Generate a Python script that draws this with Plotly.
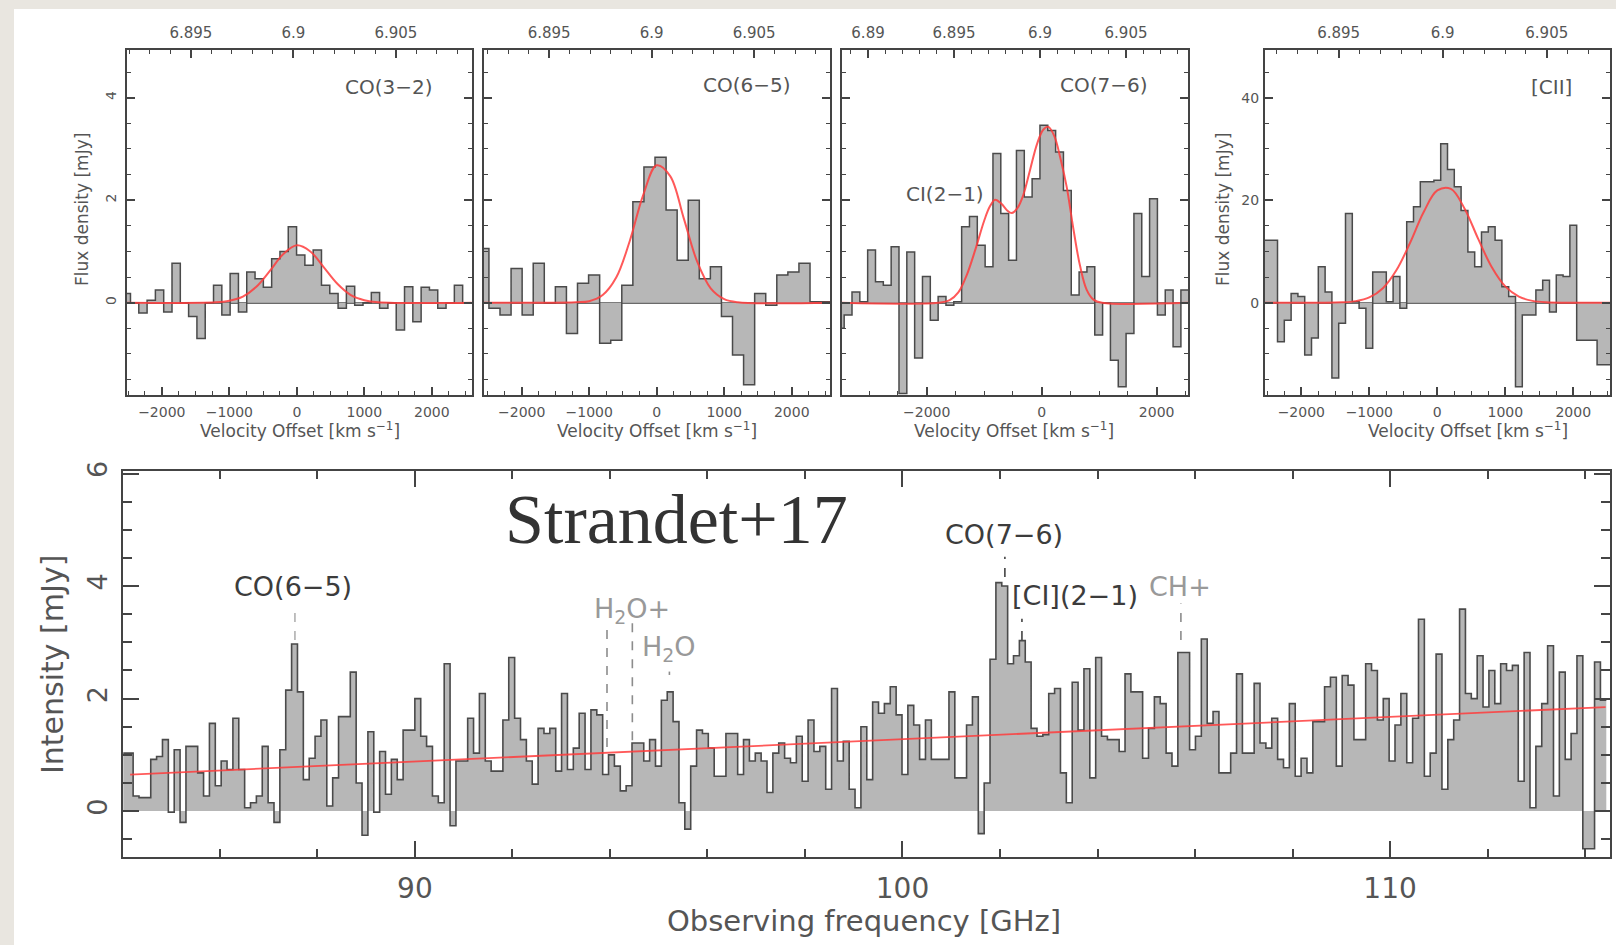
import numpy as np
import plotly.graph_objects as go

W, H = 1616, 945

# ---------------- data ----------------
# Panel 1: CO(3-2), velocity channels (km/s) and flux density (mJy)
co32_first_kms = -2525.5
co32_chan_kms = 123.0
co32_mjy = [0.18, 0.0, -0.2, 0.05, 0.25, -0.18, 0.77, 0.0, -0.27, -0.7, 0.0, 0.34,
            -0.24, 0.57, -0.18, 0.6, 0.47, 0.3, 0.86, 1.0, 1.48, 0.93, 0.73, 1.03,
            0.34, 0.18, -0.11, 0.32, -0.05, 0.0, 0.2, -0.11, 0.0, -0.53, 0.31, -0.37,
            0.3, 0.25, -0.11, 0.0, 0.34, 0.0]
co32_fit_kms = [-2600, -1200, -1000, -800, -600, -400, -200, 0, 200, 400, 600, 800, 1000, 1200, 2650]
co32_fit_mjy = [0, 0.01, 0.04, 0.12, 0.31, 0.62, 0.95, 1.12, 1.0, 0.69, 0.37, 0.15, 0.05, 0.01, 0]

# Panel 2: CO(6-5)
co65_first_kms = -2567.0
co65_chan_kms = 164.0
co65_mjy = [1.06, -0.11, -0.24, 0.67, -0.24, 0.77, -0.01, 0.31, -0.6, 0.38, 0.54, -0.79,
            -0.73, 0.34, 1.97, 2.65, 2.84, 1.81, 0.83, 2.0, 0.47, 0.7, -0.27, -1.02,
            -1.6, 0.18, -0.05, 0.54, 0.6, 0.77, 0.02, 0.02]
co65_fit_kms = [-2600, -1200, -1000, -800, -600, -400, -200, 0, 200, 400, 600, 800, 1000, 1200, 2600]
co65_fit_mjy = [0, 0.01, 0.03, 0.15, 0.49, 1.2, 2.1, 2.68, 2.47, 1.65, 0.8, 0.28, 0.07, 0.01, 0]

# Panel 3: CO(7-6) + CI(2-1)
co76_first_kms = -3503.2
co76_chan_kms = 136.2
co76_mjy = [-0.5, -0.24, 0.21, 0.02, 1.03, 0.41, 0.34, 1.09, -1.77, 0.99, -1.08, 0.51,
            -0.34, 0.12, -0.05, 0.02, 1.48, 1.68, 1.12, 0.7, 2.91, 1.74, 0.83, 2.97,
            2.06, 2.42, 3.46, 3.36, 2.94, 2.19, 0.15, 0.6, 0.7, -0.63, -0.01, -1.12,
            -1.64, -0.6, 1.74, 0.51, 2.03, -0.24, 0.25, -0.86, 0.25]
co76_fit_kms = [-3500, -1800, -1600, -1450, -1300, -1150, -1000, -900, -810, -700, -600,
                -520, -420, -320, -200, -80, 30, 116, 220, 330, 435, 550, 667, 783, 900,
                1050, 2600]
co76_fit_mjy = [0, 0, 0.05, 0.2, 0.55, 1.05, 1.6, 1.88, 2.01, 1.93, 1.8, 1.75, 1.85, 2.1,
                2.6, 3.1, 3.38, 3.43, 3.25, 2.8, 2.26, 1.45, 0.72, 0.25, 0.06, 0.0, 0]

# Panel 4: [CII]
cii_first_kms = -2500.0
cii_chan_kms = 100.0
cii_mjy = [12.2, 12.2, -7.6, -3.4, 1.8, 1.2, -10.2, -6.9, 7.0, 2.1, -14.7, -4.0, 17.4,
           0.2, -1.1, -8.9, 6.0, 6.0, 0.2, 5.1, -1.1, 15.8, 18.7, 23.6, 23.6, 23.9,
           31.0, 26.0, 22.6, 18.0, 9.9, 7.0, 13.8, 14.8, 12.2, 3.1, 1.2, -16.4, -2.4,
           -2.4, 2.5, 4.4, -1.8, 5.4, 5.1, 15.1, -7.3, -7.3, -7.3, -12.1, -12.1]
cii_fit_kms = [-2600, -1400, -1200, -1000, -800, -600, -400, -200, 0, 200, 400, 600,
               800, 1000, 1200, 1400, 1600, 2600]
cii_fit_mjy = [0, 0.08, 0.31, 1.03, 2.83, 6.37, 11.7, 17.7, 21.9, 22.2, 18.4, 12.5,
               6.97, 3.18, 1.19, 0.36, 0.09, 0]

# Bottom: full spectral scan (GHz, mJy)
spec_first_ghz = 84.041
spec_chan_ghz = 0.12037
spec_mjy = [
    1.03, 1.03, 0.27, 0.24, 0.24, 0.92, 0.97, 1.27, -0.02, 1.09, -0.2, 1.15, 1.15, 0.68,
    0.27, 1.56, 0.45, 0.89, 0.74, 1.65, 0.74, 0.06, 0.15, 0.27, 1.15, 0.15, -0.2, 1.09,
    2.15, 2.97, 2.12, 0.56, 0.94, 1.33, 1.62, 0.09, 0.59, 1.68, 1.68, 2.47, 0.5, -0.43,
    1.41, -0.02, 1.06, 0.3, 0.92, 0.56, 1.44,
    1.44, 2.0, 1.33, 1.15, 0.27, 0.15, 2.62, -0.26, 0.89, 0.89, 1.65, 1.03, 2.09, 0.89,
    0.71, 0.71, 1.62, 2.73, 1.65, 1.27, 0.89, 0.48, 1.47, 1.38, 1.47, 0.71, 2.09, 0.74,
    1.12, 1.74, 0.74, 1.8, 1.71, 0.65, 1.0, 0.8, 0.36, 0.45, 1.21, 1.21, 0.89, 1.27,
    0.8, 1.97, 2.12, 1.59, 0.15, -0.32, 0.8, 1.44,
    1.38, 1.12, 0.62, 0.62, 1.38, 1.38, 0.65, 1.27, 0.89, 1.03, 0.89, 0.33, 1.03, 1.21,
    0.94, 0.86, 1.33, 0.53, 1.62, 1.06, 1.15, 0.39, 2.18, 0.89, 1.24, 0.39, 0.06, 1.5,
    0.56, 1.94, 1.74, 1.91, 2.21, 1.71, 0.65, 1.88, 1.53, 0.92, 1.62, 0.92, 0.92, 0.92,
    2.12, 0.59, 0.59, 1.53, 2.03, -0.4, 0.5,
    2.7, 4.06, 4.0, 2.62, 2.76, 3.03, 2.65, 1.47, 1.33, 1.36, 2.09, 2.18, 0.68, 0.15,
    2.29, 1.44, 2.53, 0.59, 2.73, 1.33, 1.27, 1.27, 1.06, 2.44, 2.12, 2.12, 0.94, 1.47,
    2.03, 1.91, 1.03, 0.8, 2.82, 2.82, 1.09, 1.33, 3.06, 1.56, 1.77, 0.68, 0.68, 1.03,
    2.44, 1.03, 1.03, 2.27, 1.21, 1.12, 1.65, 0.92, 0.77, 1.91,
    0.62, 0.94, 0.68, 1.59, 1.59, 2.21, 2.38, 0.8, 2.41, 2.24, 1.27, 1.27, 2.62, 2.5,
    1.62, 2.0, 0.89, 1.53, 2.09, 0.86, 1.65, 3.41, 0.62, 1.03, 2.79, 0.39, 1.27, 1.62,
    3.59, 2.09, 2.0, 2.76, 1.85, 2.5, 1.91, 2.62, 2.5, 2.59, 0.53, 2.82, 0.06, 1.15,
    1.91, 2.94, 0.27, 2.47, 0.92, 1.38, 2.76, -0.67, -0.67, 2.65, 1.97]
cont_ghz = [84.16, 114.42]
cont_mjy = [0.65, 1.85]

# line identification markers (dashed ticks)
mark_ghz = [87.54, 93.94, 94.46, 95.22, 102.10, 102.45, 105.71]
mark_top = [3.66, 3.22, 3.34, 2.48, 4.52, 3.42, 3.69]
mark_bot = [3.04, 1.14, 1.26, 2.42, 4.16, 3.04, 3.04]
mark_col = ["#b0b0b0", "#8c8c8c", "#8c8c8c", "#8c8c8c", "#444444", "#444444", "#8c8c8c"]

lab_text = ["CO(6\u22125)", "H<sub>2</sub>O+", "H<sub>2</sub>O", "CO(7\u22126)",
            "[CI](2\u22121)", "CH+"]
lab_ghz = [87.5, 94.46, 95.21, 102.08, 103.54, 105.69]
lab_mjy = [3.99, 3.57, 2.89, 4.92, 3.84, 3.99]
lab_col = ["#3c3c3c", "#999999", "#999999", "#3c3c3c", "#3c3c3c", "#999999"]

# ---------------- helpers ----------------
def steps(first, width, vals):
    vals = np.asarray(vals, dtype=float)
    centers = first + width * np.arange(len(vals))
    edges = np.append(centers - width / 2.0, centers[-1] + width / 2.0)
    ys = np.append(vals, vals[-1])
    return edges, ys

FILL = "#b7b7b7"
EDGE = "#4a4a4a"
RED = "rgba(255,60,60,0.85)"
TXT = "#555555"
AX = "#444444"
FONT = "DejaVu Sans"

fig = go.Figure()

panels = [
    ("x", "y", co32_first_kms, co32_chan_kms, co32_mjy, co32_fit_kms, co32_fit_mjy),
    ("x2", "y2", co65_first_kms, co65_chan_kms, co65_mjy, co65_fit_kms, co65_fit_mjy),
    ("x3", "y3", co76_first_kms, co76_chan_kms, co76_mjy, co76_fit_kms, co76_fit_mjy),
    ("x4", "y4", cii_first_kms, cii_chan_kms, cii_mjy, cii_fit_kms, cii_fit_mjy),
]
for xa, ya, f0, w, vals, fx, fy in panels:
    ex, ey = steps(f0, w, vals)
    fig.add_trace(go.Scatter(x=ex, y=ey, mode="lines", line_shape="hv", fill="tozeroy",
                             fillcolor=FILL, line=dict(color=EDGE, width=1.5),
                             xaxis=xa, yaxis=ya, showlegend=False, hoverinfo="skip"))
    fig.add_trace(go.Scatter(x=fx, y=fy, mode="lines", line_shape="spline",
                             line=dict(color=RED, width=2), xaxis=xa, yaxis=ya,
                             showlegend=False, hoverinfo="skip"))

# dummy empty traces to create top (redshift) axes
for xa, ya in [("x6", "y"), ("x7", "y2"), ("x8", "y3"), ("x9", "y4")]:
    fig.add_trace(go.Scatter(x=[], y=[], xaxis=xa, yaxis=ya, showlegend=False,
                             hoverinfo="skip"))

# bottom spectrum
bx, by = steps(spec_first_ghz, spec_chan_ghz, spec_mjy)
fig.add_trace(go.Scatter(x=bx, y=by, mode="lines", line_shape="hv", fill="tozeroy",
                         fillcolor=FILL, line=dict(color=EDGE, width=1.6),
                         xaxis="x5", yaxis="y5", showlegend=False, hoverinfo="skip"))
fig.add_trace(go.Scatter(x=cont_ghz, y=cont_mjy, mode="lines",
                         line=dict(color=RED, width=1.8), xaxis="x5", yaxis="y5",
                         showlegend=False, hoverinfo="skip"))
for g, t, b, c in zip(mark_ghz, mark_top, mark_bot, mark_col):
    fig.add_trace(go.Scatter(x=[g, g], y=[b, t], mode="lines",
                             line=dict(color=c, width=1.6, dash="dash"),
                             xaxis="x5", yaxis="y5", showlegend=False, hoverinfo="skip"))

# ---------------- layout ----------------
def px_x(p):
    return p / W

def px_y(p):
    return 1 - p / H

top_dom_y = [px_y(395), px_y(50)]
doms = {
    "x": [px_x(126.7), px_x(471.7)],
    "x2": [px_x(484), px_x(830)],
    "x3": [px_x(841.7), px_x(1188.3)],
    "x4": [px_x(1265), px_x(1610)],
}
vranges = {"x": [-2520, 2590], "x2": [-2558, 2567], "x3": [-3478, 2550], "x4": [-2534, 2540]}
zranges = {"x": [6.89187, 6.9087], "x2": [6.89182, 6.9087], "x3": [6.88847, 6.90862],
           "x4": [6.89146, 6.90804]}
vdtick = {"x": 1000, "x2": 1000, "x3": 2000, "x4": 1000}
vminor = {"x": 250, "x2": 250, "x3": 500, "x4": 250}

base = dict(showline=True, linecolor=AX, linewidth=2, ticks="inside", tickcolor=AX,
            tickwidth=1.5, showgrid=False, zeroline=False, automargin=False,
            tickfont=dict(family=FONT, size=14, color=TXT))

lay = dict(width=W, height=H, autosize=False, margin=dict(l=0, r=0, t=0, b=0, pad=0),
           paper_bgcolor="#e9e6e0", plot_bgcolor="white", showlegend=False)

names = ["", "2", "3", "4"]
top_names = ["6", "7", "8", "9"]
for i, k in enumerate(["x", "x2", "x3", "x4"]):
    n = names[i]
    yk = "y" + n
    lay["xaxis" + n] = dict(base, domain=doms[k], range=vranges[k], anchor=yk,
                            dtick=vdtick[k], tick0=0, ticklen=8, mirror=True,
                            ticklabelstandoff=3,
                            minor=dict(ticks="inside", ticklen=4, dtick=vminor[k], tick0=0,
                                       tickcolor=AX, tickwidth=1.2))
    if k == "x4":
        yr, yd, ym = [-18, 49.3], 20, 5
    else:
        yr, yd, ym = [-1.8, 4.93], 2, 0.5
    ydict = dict(base, domain=top_dom_y, range=yr, anchor=k, dtick=yd, tick0=0,
                 ticklen=8, mirror="ticks", zeroline=True, zerolinecolor="#6a6a6a",
                 zerolinewidth=1.5,
                 minor=dict(ticks="inside", ticklen=4, dtick=ym, tick0=0, tickcolor=AX,
                            tickwidth=1.2))
    if k == "x":
        ydict.update(tickangle=-90, ticklabelstandoff=3)
    elif k == "x4":
        ydict.update(ticklabelstandoff=1)
    else:
        ydict.update(showticklabels=False)
    lay["yaxis" + n] = ydict
    tn = top_names[i]
    lay["xaxis" + tn] = dict(base, overlaying=k, anchor=yk, side="top", range=zranges[k],
                             dtick=0.005, tick0=6.9, ticklen=8, ticklabelstandoff=4,
                             tickfont=dict(family=FONT, size=15, color=TXT),
                             minor=dict(ticks="inside", ticklen=4, dtick=0.001, tick0=6.9,
                                        tickcolor=AX, tickwidth=1.2))

lay["xaxis5"] = dict(base, domain=[px_x(123.3), px_x(1609.5)], range=[84.02, 114.5],
                     anchor="y5", dtick=10, tick0=0, ticklen=16, mirror="ticks",
                     ticklabelstandoff=6, tickfont=dict(family=FONT, size=28, color=TXT),
                     minor=dict(ticks="inside", ticklen=8, dtick=2, tick0=0, tickcolor=AX,
                                tickwidth=1.5))
lay["yaxis5"] = dict(base, domain=[px_y(856.7), px_y(470.7)], range=[-0.81, 6.05],
                     anchor="x5", dtick=2, tick0=0, ticklen=16, mirror="ticks",
                     tickangle=-90, ticklabelstandoff=4,
                     tickfont=dict(family=FONT, size=27, color=TXT),
                     minor=dict(ticks="inside", ticklen=9, dtick=0.5, tick0=0, tickcolor=AX,
                                tickwidth=1.5))

fig.update_layout(**lay)

# white page area
fig.add_shape(type="rect", xref="paper", yref="paper", x0=px_x(14), x1=1.0, y0=0,
              y1=px_y(9), fillcolor="white", line=dict(width=0), layer="below")

ann = []
C = dict(xanchor="center", yanchor="middle", showarrow=False)
# panel labels
panel_labels = [("CO(3\u22122)", "x", "y", 1363, 4.21), ("CO(6\u22125)", "x2", "y2", 1342, 4.24),
                ("CO(7\u22126)", "x3", "y3", 1083, 4.24), ("CI(2\u22121)", "x3", "y3", -1682, 2.13),
                ("[CII]", "x4", "y4", 1682, 42.1)]
for t, xr, yr_, xv, yv in panel_labels:
    ann.append(dict(C, text=t, x=xv, y=yv, xref=xr, yref=yr_,
                    font=dict(family=FONT, size=20, color=TXT)))
# top x titles
for cx in [300, 656.7, 1014, 1467.5]:
    ann.append(dict(C, text="Velocity Offset [km s<sup>\u22121</sup>]", x=px_x(cx), y=px_y(430),
                    xref="paper", yref="paper", font=dict(family=FONT, size=17, color=TXT)))
for cx in [82, 1223]:
    ann.append(dict(C, text="Flux density [mJy]", x=px_x(cx), y=px_y(210), xref="paper",
                    yref="paper", textangle=-90, font=dict(family=FONT, size=17, color=TXT)))
# bottom labels
for t, g, v, c in zip(lab_text, lab_ghz, lab_mjy, lab_col):
    ann.append(dict(C, text=t, x=g, y=v, xref="x5", yref="y5",
                    font=dict(family=FONT, size=27, color=c)))
ann.append(dict(C, text="Observing frequency [GHz]", x=px_x(864), y=px_y(921), xref="paper",
                yref="paper", font=dict(family=FONT, size=29, color=TXT)))
ann.append(dict(C, text="Intensity [mJy]", x=px_x(52), y=px_y(665), xref="paper",
                yref="paper", textangle=-90, font=dict(family=FONT, size=30, color=TXT)))
ann.append(dict(C, text="Strandet+17", x=px_x(676), y=px_y(519), xref="paper", yref="paper",
                font=dict(family="Liberation Serif", size=70, color="#333333")))
fig.update_layout(annotations=ann)

fig.write_html("out.html")
